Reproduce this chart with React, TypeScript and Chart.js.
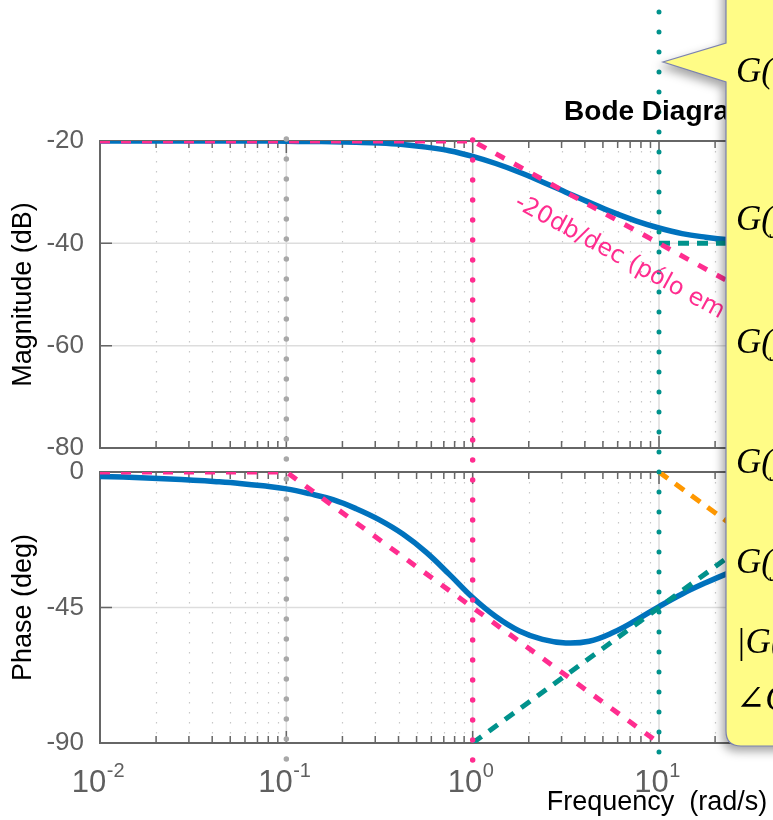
import React, { useEffect, useRef } from 'react';
import { Chart, registerables } from 'chart.js';

Chart.register(...registerables);

// ---------------- data ----------------
const frequencies = [
  0.01, 0.0133, 0.0178, 0.0237, 0.0316, 0.0422, 0.0562, 0.075,
  0.1, 0.133, 0.178, 0.237, 0.316, 0.422, 0.562, 0.75,
  1, 1.33, 1.78, 2.37, 3.16, 4.22, 5.62, 7.5,
  10, 13.3, 17.8, 23.7, 31.6, 42.2, 56.2, 75, 100,
];
const magnitudeDb = [
  -20, -20, -20, -20, -20, -20, -20, -20,
  -20.05, -20.1, -20.15, -20.25, -20.4, -20.7, -21.2, -21.9,
  -23, -24.4, -26.1, -28, -30, -32, -33.9, -35.6,
  -37, -38.1, -38.8, -39.3, -39.6, -39.8, -39.9, -39.95, -40,
];
const phaseDeg = [
  -1.5, -1.7, -2, -2.3, -2.7, -3.2, -3.8, -4.6,
  -5.6, -7.2, -9.2, -12.2, -15.9, -20.6, -26.6, -34,
  -41.7, -48, -52.8, -55.6, -56.8, -56.2, -53.4, -49.3,
  -44.7, -40.5, -36.8, -33.5, -30.5, -27.5, -24.5, -21.5, -18.5,
];

// straight-line (asymptotic) approximations
const magPoleFreq = [0.01, 1, 100];
const magPoleDb = [-20, -20, -60];
const magZeroFreq = [10, 100];
const magZeroDb = [-40, -40];
const phasePoleFreq = [0.01, 0.1, 10];
const phasePoleDeg = [0, 0, -90];
const phaseZeroFreq = [1, 100];
const phaseZeroDeg = [-90, 0];
const phaseZeroAltFreq = [10, 100];
const phaseZeroAltDeg = [0, -45];

// vertical marker frequencies
const markerFreqs = [0.1, 1, 10];

// axes
const xMin = 0.01;
const xMax = 10000;
const decadeValues = [0.01, 0.1, 1, 10, 100, 1000, 10000];
const decadeExponents = ['-2', '-1', '0', '1', '2', '3', '4'];
const magRange = [-80, -20];
const magStep = 20;
const phaseRange = [-90, 0];
const phaseStep = 45;

// annotation text
const titleText = 'Bode Diagram';
const xTitleText = 'Frequency  (rad/s)';
const magTitleText = 'Magnitude (dB)';
const phaseTitleText = 'Phase (deg)';
const slopeText = '-20db/dec (pólo em s = -1)';
const slopeAnchor = { x: 1.65, y: -32.8 };
const boxLines = [
  'G(s) = 0.1(0.1s + 1)/(s + 1)',
  'G(jω) = 0.1(0.1jω + 1)/(jω + 1)',
  'G(jω) ≈ 0.1   (ω ≪ 1)',
  'G(jω) ≈ 0.1/(jω)   (1 ≪ ω ≪ 10)',
  'G(jω) ≈ 0.01   (ω ≫ 10)',
  '|G(jω)|dB',
  '∠G(jω)',
];

// ---------------- styles ----------------
const PINK = '#ff2d8f';
const TEAL = '#00928c';
const ORANGE = '#ff9800';
const BLUE = '#0072bd';
const MARK_GRAY = '#a8a8a8';
const SANS = "'Liberation Sans', Arial, Helvetica, sans-serif";
const boxBaselines = [82, 230, 353, 473, 573, 653, 710];

const markerStyles = [
  { color: MARK_GRAY, up: 2, down: 16, width: 5.5 },
  { color: PINK, up: 1, down: 17, width: 5.5 },
  { color: TEAL, up: 129, down: 9, width: 5 },
];

const pts = (xs: number[], ys: number[]) => xs.map((x, i) => ({ x, y: ys[i] }));

const bodePlugin = {
  id: 'bodeDecor',
  beforeDatasetsDraw(chart: any) {
    const { ctx, chartArea } = chart;
    const xs = chart.scales.x;
    const left = chartArea.left;
    const right = chartArea.right;
    const minor: number[] = [];
    const major: number[] = [];
    decadeValues.forEach((d, i) => {
      major.push(xs.getPixelForValue(d));
      if (i < decadeValues.length - 1) {
        for (let m = 2; m <= 9; m++) minor.push(xs.getPixelForValue(d * m));
      }
    });
    for (const id of ['mag', 'phase']) {
      const ys = chart.scales[id];
      const top = ys.top;
      const bottom = ys.bottom;
      ctx.save();
      // minor dotted grid
      ctx.strokeStyle = '#c8c8c8';
      ctx.lineWidth = 1.2;
      ctx.setLineDash([1.5, 8.5]);
      ctx.beginPath();
      minor.forEach((px) => {
        const x = Math.round(px) + 0.5;
        ctx.moveTo(x, top);
        ctx.lineTo(x, bottom);
      });
      ctx.stroke();
      // major grid
      ctx.setLineDash([]);
      ctx.strokeStyle = '#dddddd';
      ctx.lineWidth = 1.5;
      ctx.beginPath();
      major.forEach((px) => {
        ctx.moveTo(px, top);
        ctx.lineTo(px, bottom);
      });
      ys.ticks.forEach((t: any) => {
        const y = ys.getPixelForValue(t.value);
        ctx.moveTo(left, y);
        ctx.lineTo(right, y);
      });
      ctx.stroke();
      // tick marks (inward)
      ctx.strokeStyle = '#666666';
      ctx.lineWidth = 1.5;
      ctx.beginPath();
      minor.forEach((px) => {
        ctx.moveTo(px, top);
        ctx.lineTo(px, top + 7);
        ctx.moveTo(px, bottom);
        ctx.lineTo(px, bottom - 7);
      });
      major.forEach((px) => {
        ctx.moveTo(px, top);
        ctx.lineTo(px, top + 12);
        ctx.moveTo(px, bottom);
        ctx.lineTo(px, bottom - 12);
      });
      ys.ticks.forEach((t: any) => {
        const y = ys.getPixelForValue(t.value);
        ctx.moveTo(left, y);
        ctx.lineTo(left + 12, y);
        ctx.moveTo(right, y);
        ctx.lineTo(right - 12, y);
      });
      ctx.stroke();
      // axes box
      ctx.lineWidth = 2;
      ctx.strokeRect(left, top, right - left, bottom - top);
      ctx.restore();
    }
  },
  afterDatasetsDraw(chart: any) {
    const { ctx, chartArea } = chart;
    const xs = chart.scales.x;
    // vertical dotted markers
    markerFreqs.forEach((f, i) => {
      const st = markerStyles[i];
      const x = xs.getPixelForValue(f);
      ctx.save();
      ctx.strokeStyle = st.color;
      ctx.lineWidth = st.width;
      ctx.lineCap = 'round';
      ctx.setLineDash([0, 20]);
      ctx.beginPath();
      ctx.moveTo(x, chartArea.top - st.up);
      ctx.lineTo(x, chartArea.bottom + st.down + 0.5);
      ctx.stroke();
      ctx.restore();
    });
    // slope annotation
    const ax = xs.getPixelForValue(slopeAnchor.x);
    const ay = chart.scales.mag.getPixelForValue(slopeAnchor.y);
    ctx.save();
    ctx.translate(ax, ay);
    ctx.rotate((28.5 * Math.PI) / 180);
    ctx.font = "24px 'DejaVu Sans', sans-serif";
    ctx.fillStyle = PINK;
    ctx.textBaseline = 'alphabetic';
    ctx.textAlign = 'left';
    ctx.fillText(slopeText, 0, 0);
    ctx.restore();
  },
  afterDraw(chart: any) {
    const { ctx, chartArea } = chart;
    const xs = chart.scales.x;
    const cx = (chartArea.left + chartArea.right) / 2;
    ctx.save();
    // title
    ctx.fillStyle = '#000';
    ctx.font = `bold 28px ${SANS}`;
    ctx.textAlign = 'center';
    ctx.textBaseline = 'alphabetic';
    ctx.fillText(titleText, cx, 120);
    // x title
    ctx.font = `27px ${SANS}`;
    ctx.fillText(xTitleText, cx - 2, 810);
    // x tick labels 10^n
    ctx.textAlign = 'left';
    ctx.fillStyle = '#5f5f5f';
    decadeValues.forEach((d, i) => {
      const px = xs.getPixelForValue(d);
      ctx.font = `31px ${SANS}`;
      const wb = ctx.measureText('10').width;
      ctx.font = `20px ${SANS}`;
      const ws = ctx.measureText(decadeExponents[i]).width;
      const sx = px - (wb + ws) / 2 - 2;
      ctx.font = `31px ${SANS}`;
      ctx.fillText('10', sx, 792);
      ctx.font = `20px ${SANS}`;
      ctx.fillText(decadeExponents[i], sx + wb + 0.5, 777);
    });
    ctx.restore();
  },
};

const fixWidth = (s: any) => {
  s.width = 100;
};

export default function App() {
  const ref = useRef<HTMLCanvasElement | null>(null);

  useEffect(() => {
    if (!ref.current) return;
    const lineBase = { pointRadius: 0, pointHoverRadius: 0, fill: false };
    const chart = new Chart(ref.current, {
      type: 'line',
      data: {
        datasets: [
          { ...lineBase, label: 'mag pole', data: pts(magPoleFreq, magPoleDb), yAxisID: 'mag', borderColor: PINK, borderWidth: 5, borderDash: [10, 11], order: 1 },
          { ...lineBase, label: 'mag zero', data: pts(magZeroFreq, magZeroDb), yAxisID: 'mag', borderColor: TEAL, borderWidth: 5, borderDash: [11, 8], order: 1 },
          { ...lineBase, label: 'phase pole', data: pts(phasePoleFreq, phasePoleDeg), yAxisID: 'phase', borderColor: PINK, borderWidth: 5, borderDash: [10, 11], order: 1 },
          { ...lineBase, label: 'phase zero', data: pts(phaseZeroFreq, phaseZeroDeg), yAxisID: 'phase', borderColor: TEAL, borderWidth: 5, borderDash: [11, 9], order: 1 },
          { ...lineBase, label: 'phase zero alt', data: pts(phaseZeroAltFreq, phaseZeroAltDeg), yAxisID: 'phase', borderColor: ORANGE, borderWidth: 5, borderDash: [11, 9], order: 1 },
          { ...lineBase, label: 'magnitude', data: pts(frequencies, magnitudeDb), yAxisID: 'mag', borderColor: BLUE, borderWidth: 5.5, tension: 0.4, order: 2 },
          { ...lineBase, label: 'phase', data: pts(frequencies, phaseDeg), yAxisID: 'phase', borderColor: BLUE, borderWidth: 5.5, tension: 0.4, order: 2 },
        ],
      } as any,
      options: {
        animation: false,
        responsive: false,
        devicePixelRatio: 1,
        events: [],
        layout: { padding: { top: 141, left: 0, right: 22, bottom: 77 } },
        plugins: { legend: { display: false }, tooltip: { enabled: false }, title: { display: false } },
        scales: {
          x: { type: 'logarithmic', min: xMin, max: xMax, display: false },
          mag: {
            type: 'linear',
            position: 'left',
            stack: 'bode',
            stackWeight: 307,
            weight: 3,
            min: magRange[0],
            max: magRange[1],
            afterFit: fixWidth,
            grid: { display: false, drawTicks: false },
            border: { display: false },
            ticks: { stepSize: magStep, padding: 16, color: '#5f5f5f', font: { size: 26, family: SANS } },
            title: { display: true, text: magTitleText, color: '#000', font: { size: 27, family: SANS }, padding: { top: 7, bottom: 0 } },
          },
          gap: {
            type: 'linear',
            position: 'left',
            stack: 'bode',
            stackWeight: 24,
            weight: 2,
            afterFit: fixWidth,
            grid: { display: false, drawTicks: false },
            border: { display: false },
            ticks: { display: false },
          },
          phase: {
            type: 'linear',
            position: 'left',
            stack: 'bode',
            stackWeight: 271,
            weight: 1,
            min: phaseRange[0],
            max: phaseRange[1],
            afterFit: fixWidth,
            grid: { display: false, drawTicks: false },
            border: { display: false },
            ticks: { stepSize: phaseStep, padding: 16, color: '#5f5f5f', font: { size: 26, family: SANS } },
            title: { display: true, text: phaseTitleText, color: '#000', font: { size: 27, family: SANS }, padding: { top: 7, bottom: 0 } },
          },
        },
      } as any,
      plugins: [bodePlugin],
    });
    return () => chart.destroy();
  }, []);

  return (
    <div style={{ position: 'absolute', left: 0, top: 0, width: 773, height: 820, overflow: 'hidden', background: '#fff' }}>
      <canvas ref={ref} width={1240} height={820} style={{ position: 'absolute', left: 0, top: 0, width: 1240, height: 820 }} />
      <svg width={773} height={820} style={{ position: 'absolute', left: 0, top: 0, overflow: 'hidden' }}>
        <path
          d="M726,-20 L726,43 L663,62 L726,82 L726,731 Q726,746 741,746 L790,746 L790,-20 Z"
          fill="#fffc86"
          stroke="#7b82b0"
          strokeWidth={1.2}
          style={{ filter: 'drop-shadow(-3px 5px 5px rgba(0,0,0,0.35))' }}
        />
        {boxLines.map((t, i) => (
          <text
            key={i}
            x={736}
            y={boxBaselines[i]}
            fontFamily="'Liberation Serif', 'Times New Roman', 'DejaVu Serif', serif"
            fontStyle="italic"
            fontSize={35}
            fill="#000"
          >
            {t}
          </text>
        ))}
      </svg>
    </div>
  );
}
